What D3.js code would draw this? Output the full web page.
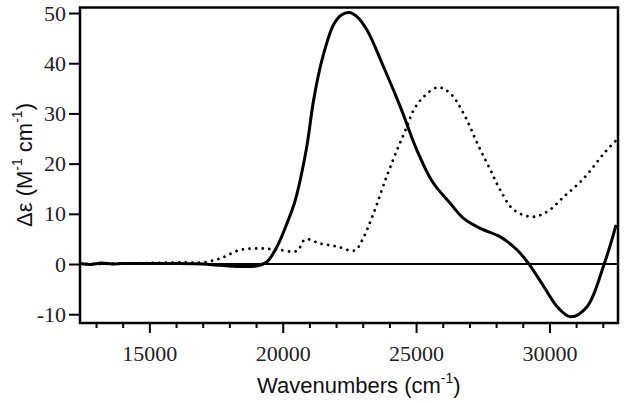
<!DOCTYPE html>
<html>
<head>
<meta charset="utf-8">
<script src="https://cdn.jsdelivr.net/npm/d3@7"></script>
<style>
  html, body { margin: 0; padding: 0; background: #fff; }
  svg { display: block; }
</style>
</head>
<body>
<svg id="chart" width="625" height="403"></svg>
<script>
// ---- data ----
const solidWn = [12400, 12800, 13200, 13600, 14000, 15000, 16000, 17000, 17500, 18000, 18500, 19000, 19400, 19780, 20160, 20470, 20880, 21160, 21470, 21900, 22200, 22500, 22800, 23160, 23780, 24410, 25030, 25600, 26280, 26780, 27410, 28160, 28790, 29260, 29790, 30290, 30790, 31410, 32040, 32500];
const solidVal = [0.1, -0.1, 0.2, 0.0, 0.1, 0.1, 0.1, 0.0, -0.2, -0.4, -0.5, -0.4, 0.4, 3.4, 8.1, 12.7, 22.7, 32.7, 40.6, 47.6, 49.6, 50.1, 49.2, 46.6, 39.3, 31.3, 22.7, 16.5, 12.1, 9.1, 7.1, 5.4, 2.8, -0.2, -4.5, -8.5, -10.5, -8.5, -0.2, 7.8];

const dotWn = [12400, 13000, 14000, 15000, 16000, 16500, 17000, 17650, 18400, 19150, 19780, 20530, 20840, 21400, 22030, 22700, 23000, 23400, 23900, 24340, 24660, 24910, 25280, 25820, 26280, 26780, 27350, 27790, 28160, 28660, 29350, 29910, 30540, 31290, 32100, 32570];
const dotVal = [0.1, 0.0, 0.1, 0.2, 0.3, 0.3, 0.3, 1.1, 2.8, 3.1, 2.9, 2.6, 4.9, 4.1, 3.5, 2.7, 5.0, 10.0, 17.5, 23.4, 27.4, 30.7, 33.3, 35.2, 34.0, 30.0, 23.4, 18.7, 14.7, 10.8, 9.4, 10.4, 13.4, 17.1, 22.4, 25.0];

const xMajorTicks = [15000, 20000, 25000, 30000];
const xMinorTicks = [13000, 14000, 16000, 17000, 18000, 19000, 21000, 22000, 23000, 24000, 26000, 27000, 28000, 29000, 31000, 32000];
const yTicks = [-10, 0, 10, 20, 30, 40, 50];

// ---- layout ----
const svg = d3.select("#chart");
const mLeft = 80, mRight = 618, mTop = 7.5, mBottom = 323;

const x = d3.scaleLinear().domain([12400, 32570]).range([mLeft, mRight]);
const y = d3.scaleLinear().domain([-11.75, 51.1]).range([mBottom, mTop]);

svg.append("defs").append("clipPath").attr("id", "clip")
  .append("rect").attr("x", mLeft).attr("y", mTop).attr("width", mRight - mLeft).attr("height", mBottom - mTop);

// zero line
svg.append("line")
  .attr("x1", mLeft).attr("x2", mRight)
  .attr("y1", y(0)).attr("y2", y(0))
  .attr("stroke", "#000").attr("stroke-width", 2);

const line = d3.line().curve(d3.curveCatmullRom.alpha(0.5));

const solidPts = solidWn.map((w, i) => [x(w), y(solidVal[i])]);
const dotPts = dotWn.map((w, i) => [x(w), y(dotVal[i])]);

const g = svg.append("g").attr("clip-path", "url(#clip)");
g.append("path").attr("d", line(dotPts))
  .attr("fill", "none").attr("stroke", "#000")
  .attr("stroke-width", 2.8).attr("stroke-linecap", "round")
  .attr("stroke-dasharray", "0.01 6.6");
g.append("path").attr("d", line(solidPts))
  .attr("fill", "none").attr("stroke", "#000")
  .attr("stroke-width", 3).attr("stroke-linejoin", "round");

// axes
const SERIF = '"Liberation Serif"';
const SANS = '"Liberation Sans"';
const fmt = d => String(d);
const yAxis = d3.axisLeft(y).tickValues(yTicks).tickSize(11).tickPadding(3).tickFormat(fmt);
const ya = svg.append("g").attr("transform", `translate(${mLeft},0)`).call(yAxis);
ya.attr("font-family", null).attr("font-size", null);
ya.select(".domain").remove();
ya.selectAll(".tick line").attr("stroke-width", 2);
ya.selectAll(".tick text").style("font-family", SERIF).style("font-size", "22px").attr("fill", "#222");

const xAxis = d3.axisBottom(x).tickValues(xMajorTicks).tickSize(10).tickPadding(12).tickFormat(fmt);
const xa = svg.append("g").attr("transform", `translate(0,${mBottom})`).call(xAxis);
xa.attr("font-family", null).attr("font-size", null);
xa.select(".domain").remove();
xa.selectAll(".tick line").attr("stroke-width", 2);
xa.selectAll(".tick text").style("font-family", SERIF).style("font-size", "22px").attr("fill", "#222");

const xMinor = d3.axisBottom(x).tickValues(xMinorTicks).tickSize(5).tickFormat("");
const xm = svg.append("g").attr("transform", `translate(0,${mBottom})`).call(xMinor);
xm.select(".domain").remove();
xm.selectAll(".tick line").attr("stroke-width", 2);

// frame
svg.append("rect")
  .attr("x", mLeft).attr("y", mTop)
  .attr("width", mRight - mLeft).attr("height", mBottom - mTop)
  .attr("fill", "none").attr("stroke", "#000").attr("stroke-width", 2.5);

// titles
const xt = svg.append("text")
  .attr("x", 257).attr("y", 393)
  .style("font-family", SANS).style("font-size", "22px").attr("fill", "#111");
xt.append("tspan").text("Wavenumbers (cm");
xt.append("tspan").attr("dy", -10).style("font-size", "14px").text("-1");
xt.append("tspan").attr("dy", 10).text(")");

const yt = svg.append("text")
  .attr("transform", "translate(32,165) rotate(-90)")
  .attr("text-anchor", "middle")
  .style("font-family", SANS).style("font-size", "22px").attr("fill", "#111");
yt.append("tspan").text("Δε (M");
yt.append("tspan").attr("dy", -10).style("font-size", "14px").text("-1");
yt.append("tspan").attr("dy", 10).text(" cm");
yt.append("tspan").attr("dy", -10).style("font-size", "14px").text("-1");
yt.append("tspan").attr("dy", 10).text(")");
</script>
</body>
</html>
